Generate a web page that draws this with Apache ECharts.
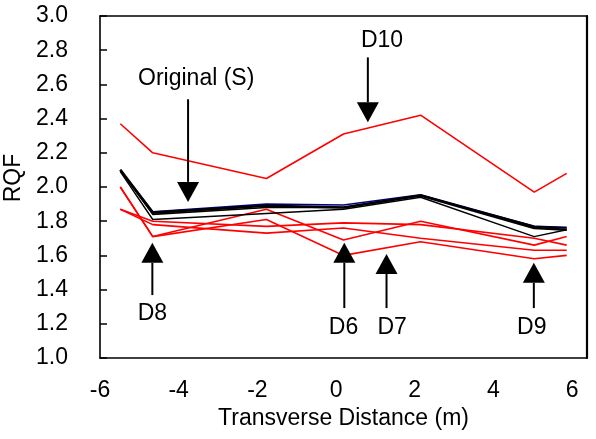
<!DOCTYPE html>
<html><head><meta charset="utf-8">
<script src="https://cdn.jsdelivr.net/npm/echarts@6/dist/echarts.min.js"></script>
<style>html,body{margin:0;padding:0;background:#fff}#c{width:596px;height:439px}</style>
</head><body><div id="c"></div>
<script>
// Transverse positions (m)
const positions = [-5.5, -4.7, -1.9, 0, 1.9, 4.7, 5.5];
// Red series (damage cases)
const d10 = [2.37, 2.20, 2.05, 2.31, 2.42, 1.97, 2.08];
const redA = [2.00, 1.71, 1.87, 1.69, 1.80, 1.66, 1.71];
const redB = [2.00, 1.71, 1.81, 1.60, 1.68, 1.58, 1.60];
const redC = [1.87, 1.80, 1.77, 1.79, 1.78, 1.70, 1.66];
const redD = [1.87, 1.78, 1.73, 1.76, 1.70, 1.63, 1.63];
// Black series
const blackA = [2.10, 1.85, 1.89, 1.88, 1.95, 1.76, 1.75];
const blackB = [2.10, 1.84, 1.88, 1.88, 1.95, 1.77, 1.76];
const blackC = [2.09, 1.81, 1.845, 1.87, 1.94, 1.71, 1.75];
// Original (S)
const original = [2.10, 1.855, 1.90, 1.895, 1.955, 1.77, 1.765];
// Tick labels
const xTicks = [-6, -4, -2, 0, 2, 4, 6];
const yTicks = [1.0, 1.2, 1.4, 1.6, 1.8, 2.0, 2.2, 2.4, 2.6, 2.8, 3.0];
// Annotations (data coords)
const annotations = [
  {text: 'Original (S)', x: -3.83, tip: 1.913, tail: 2.513, tx: -3.63, ty: 2.635, dir: 'down'},
  {text: 'D10', x: 0.60, tip: 2.378, tail: 2.758, tx: 0.95, ty: 2.857, dir: 'down'},
  {text: 'D8', x: -4.71, tip: 1.674, tail: 1.368, tx: -4.71, ty: 1.257, dir: 'up'},
  {text: 'D6', x: 0.02, tip: 1.674, tail: 1.292, tx: 0.0, ty: 1.18, dir: 'up'},
  {text: 'D7', x: 1.06, tip: 1.608, tail: 1.292, tx: 1.2, ty: 1.18, dir: 'up'},
  {text: 'D9', x: 4.69, tip: 1.557, tail: 1.292, tx: 4.64, ty: 1.18, dir: 'up'}
];

const FONT = '"Liberation Sans", Arial, sans-serif';
const chart = echarts.init(document.getElementById('c'), null, {renderer: 'canvas'});
const toData = arr => positions.map((x, i) => [x, arr[i]]);
function mk(name, arr, color, width, z) {
  return {name, type: 'line', data: toData(arr), symbol: 'none', xAxisIndex: 0, yAxisIndex: 0,
    lineStyle: {color, width}, z, animation: false, silent: true};
}
const frameLine = {show: true, onZero: false, lineStyle: {color: '#000', width: 1.6}};
chart.setOption({
  animation: false,
  grid: {left: 100, top: 16, width: 487, height: 342, show: false, containLabel: false, outerBoundsMode: 'none'},
  xAxis: [
    {type: 'value', min: -6, max: 6, interval: 2, position: 'bottom', axisLine: frameLine, axisTick: {show: false}, axisLabel: {show: false}, splitLine: {show: false}},
    {type: 'value', min: -6, max: 6.38, interval: 2, position: 'bottom', axisLine: {show: false, onZero: false}, axisTick: {show: false}, splitLine: {show: false},
      axisLabel: {margin: 21, color: '#000', fontSize: 23, fontFamily: FONT, customValues: xTicks, formatter: v => String(v)},
      name: 'Transverse Distance (m)', nameLocation: 'middle', nameGap: 47,
      nameTextStyle: {color: '#000', fontSize: 23, fontFamily: FONT}},
    {type: 'value', min: -6, max: 6, interval: 2, position: 'top', axisLine: frameLine, axisTick: {show: false}, axisLabel: {show: false}, splitLine: {show: false}}
  ],
  yAxis: [
    {type: 'value', min: 1.0, max: 3.0, interval: 0.2, position: 'left',
      axisLine: frameLine,
      axisTick: {show: true, inside: true, length: 7, lineStyle: {color: '#000', width: 1.5}},
      splitLine: {show: false},
      axisLabel: {margin: 32, color: '#000', fontSize: 23, fontFamily: FONT, formatter: v => v.toFixed(1)},
      name: 'RQF', nameLocation: 'middle', nameGap: 66,
      nameTextStyle: {color: '#000', fontSize: 23, fontFamily: FONT, padding: [0, 0, 0, 18]}},
    {type: 'value', min: 1.0, max: 3.0, interval: 0.2, position: 'right',
      axisLine: {show: true, onZero: false, lineStyle: {color: '#000', width: 2.2}},
      axisTick: {show: false}, axisLabel: {show: false}, splitLine: {show: false}}
  ],
  series: [
    mk('D10', d10, '#ff0000', 1.6, 2),
    mk('Red A', redA, '#ff0000', 1.6, 2),
    mk('Red B', redB, '#ff0000', 1.6, 2),
    mk('Red C', redC, '#ff0000', 1.6, 2),
    mk('Red D', redD, '#ff0000', 1.6, 2),
    mk('Original (S)', original, '#000080', 1.6, 3),
    mk('Black A', blackA, '#000', 2.6, 4),
    mk('Black B', blackB, '#000', 1.6, 4),
    mk('Black C', blackC, '#000', 1.4, 4)
  ]
});

// Annotation arrows and labels
const HEAD_LEN = 20, HEAD_W = 22;
const elements = [];
annotations.forEach(a => {
  const tip = chart.convertToPixel({xAxisIndex: 0, yAxisIndex: 0}, [a.x, a.tip]);
  const tail = chart.convertToPixel({xAxisIndex: 0, yAxisIndex: 0}, [a.x, a.tail]);
  const txt = chart.convertToPixel({xAxisIndex: 0, yAxisIndex: 0}, [a.tx, a.ty]);
  const s = a.dir === 'down' ? -1 : 1;
  const baseY = tip[1] + s * HEAD_LEN;
  elements.push({type: 'line', z: 100, shape: {x1: tip[0], y1: tail[1], x2: tip[0], y2: baseY}, style: {stroke: '#000', lineWidth: 2}});
  elements.push({type: 'polygon', z: 100, shape: {points: [[tip[0], tip[1]], [tip[0] - HEAD_W / 2, baseY], [tip[0] + HEAD_W / 2, baseY]]}, style: {fill: '#000'}});
  elements.push({type: 'text', z: 100, x: txt[0], y: txt[1], style: {text: a.text, fill: '#000', font: '23px ' + FONT, textAlign: 'center', textVerticalAlign: 'middle'}});
});
chart.setOption({graphic: {elements}});
</script></body></html>
